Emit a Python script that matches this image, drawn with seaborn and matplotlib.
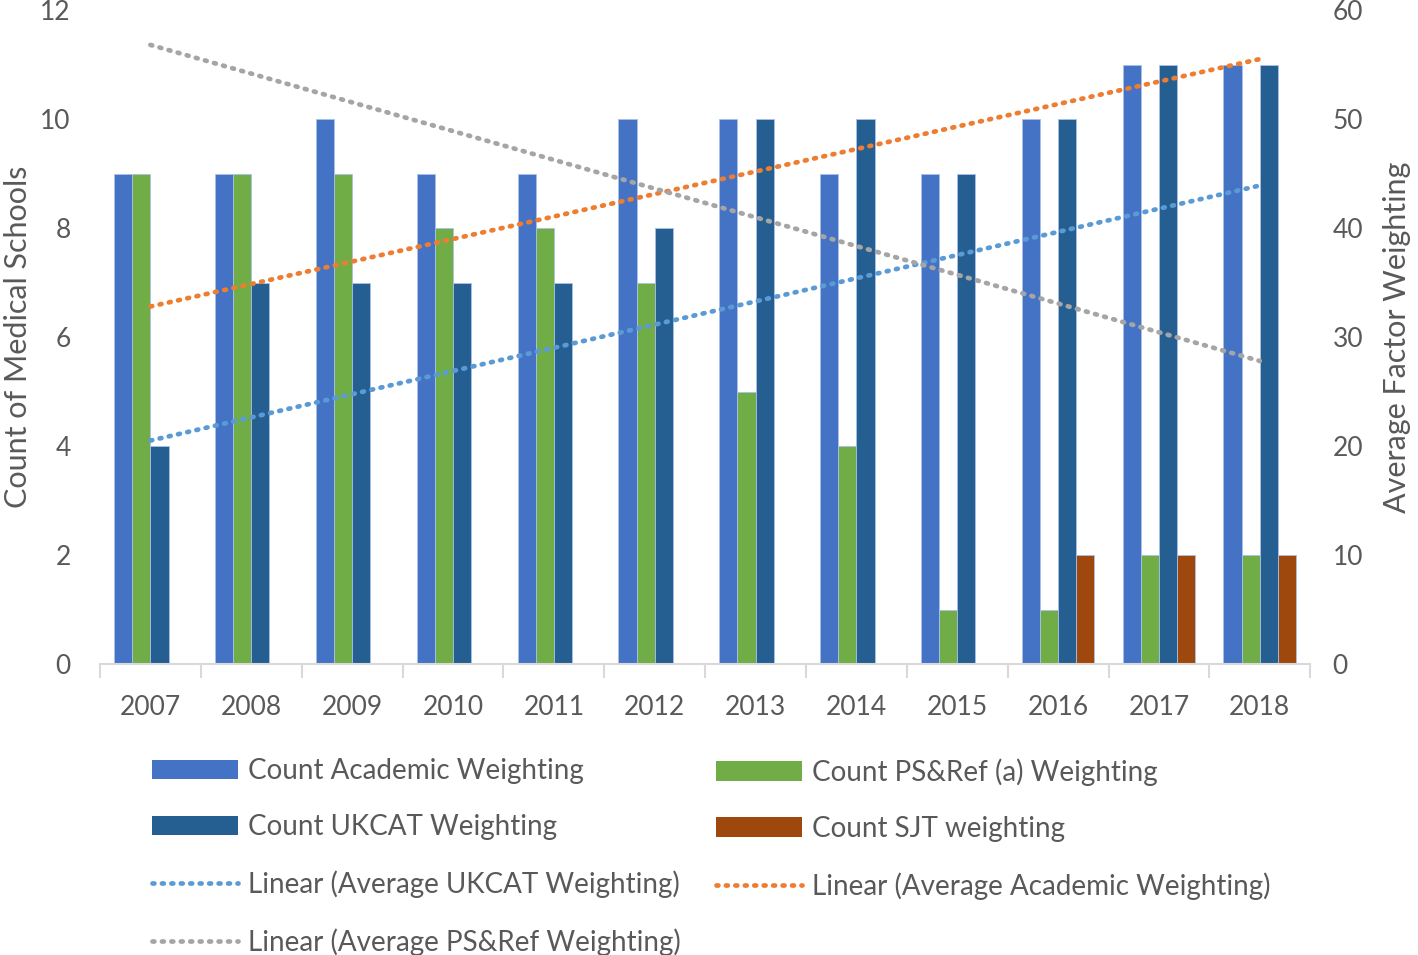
import numpy as np
import pandas as pd
import matplotlib
matplotlib.use("Agg")
import matplotlib.pyplot as plt
import seaborn as sns
from matplotlib.patches import Patch
from matplotlib.lines import Line2D

# Data
years = ['2007', '2008', '2009', '2010', '2011', '2012',
         '2013', '2014', '2015', '2016', '2017', '2018']
academic = [9, 9, 10, 9, 9, 10, 10, 9, 9, 10, 11, 11]
ps_ref = [9, 9, 9, 8, 8, 7, 5, 4, 1, 1, 2, 2]
ukcat = [4, 7, 7, 7, 7, 8, 10, 10, 9, 10, 11, 11]
sjt = [0, 0, 0, 0, 0, 0, 0, 0, 0, 2, 2, 2]

# linear trendlines (secondary axis): value at 2007 and at 2018
trend_ukcat = [20.5, 43.9]
trend_academic = [32.8, 55.5]
trend_ps = [56.8, 27.8]

series_names = ['Count Academic Weighting', 'Count PS&Ref (a) Weighting',
                'Count UKCAT Weighting', 'Count SJT weighting']
bar_colors = ['#4472C4', '#70AD47', '#255E91', '#9E480E']
trend_names = ['Linear (Average UKCAT Weighting)',
               'Linear (Average Academic Weighting)',
               'Linear (Average PS&Ref Weighting)']
trend_colors = ['#5B9BD5', '#ED7D31', '#A5A5A5']

df = pd.DataFrame({
    'Year': years * 4,
    'Count': academic + ps_ref + ukcat + sjt,
    'Series': np.repeat(series_names, len(years)),
})

sns.set_theme(style='white')
plt.rcParams['font.family'] = ['Lato', 'DejaVu Sans']
text_col = '#595959'
dot_style = (0, (0.4, 1.6))

fig = plt.figure(figsize=(14.18, 9.55), dpi=100)
ax = fig.add_axes([0.0705, 0.3047, 0.8535, 0.6848])

sns.barplot(data=df, x='Year', y='Count', hue='Series', order=years,
            hue_order=series_names, palette=bar_colors, saturation=1,
            width=0.72, gap=0, edgecolor='#A9C1E8', linewidth=0.6, ax=ax,
            legend=False)

ax.set_ylim(0, 12)
ax.set_xlim(-0.5, len(years) - 0.5)
ax.set_yticks(range(0, 13, 2))
ax.set_xlabel('')
ax.set_ylabel('Count of Medical Schools', fontsize=22, color=text_col, labelpad=6)
ax.tick_params(axis='y', length=0, pad=21, labelsize=19, labelcolor=text_col)
ax.tick_params(axis='x', which='major', length=0, pad=22, labelsize=19,
               labelcolor=text_col)
ax.set_xticks(np.arange(-0.5, len(years)), minor=True)
ax.tick_params(axis='x', which='minor', length=10, width=1.5, color='#D9D9D9',
               bottom=True)
for s in ['top', 'left', 'right']:
    ax.spines[s].set_visible(False)
ax.spines['bottom'].set_color('#D9D9D9')
ax.spines['bottom'].set_linewidth(1.5)

ax2 = ax.twinx()
ax2.set_ylim(0, 60)
ax2.set_yticks(range(0, 61, 10))
ends = [0, len(years) - 1]
for vals, col in zip([trend_ukcat, trend_academic, trend_ps], trend_colors):
    sns.lineplot(x=ends, y=vals, ax=ax2, color=col, linewidth=3.4,
                 linestyle=dot_style, dash_capstyle='round')
ax2.set_ylabel('Average Factor Weighting', fontsize=22, color=text_col, labelpad=14)
ax2.tick_params(axis='y', length=0, pad=16, labelsize=19, labelcolor=text_col)
for s in ['top', 'left', 'right', 'bottom']:
    ax2.spines[s].set_visible(False)

bar_handles = [Patch(facecolor=c, edgecolor='none') for c in bar_colors]
line_handles = [Line2D([0], [0], color=c, linewidth=3.4, linestyle=dot_style,
                       dash_capstyle='round') for c in trend_colors]

leg_kw = dict(loc='upper left', frameon=False, fontsize=20, labelcolor=text_col,
              handlelength=3.1, handleheight=0.7, handletextpad=0.36,
              labelspacing=1.09, borderaxespad=0, borderpad=0)
leg1 = fig.legend([bar_handles[0], bar_handles[2], line_handles[0], line_handles[2]],
                  [series_names[0], series_names[2], trend_names[0], trend_names[2]],
                  bbox_to_anchor=(152 / 1418, 0.2063), **leg_kw)
leg2 = fig.legend([bar_handles[1], bar_handles[3], line_handles[1]],
                  [series_names[1], series_names[3], trend_names[1]],
                  bbox_to_anchor=(716 / 1418, 0.2063), **leg_kw)

fig.savefig('out.png', dpi=100)
